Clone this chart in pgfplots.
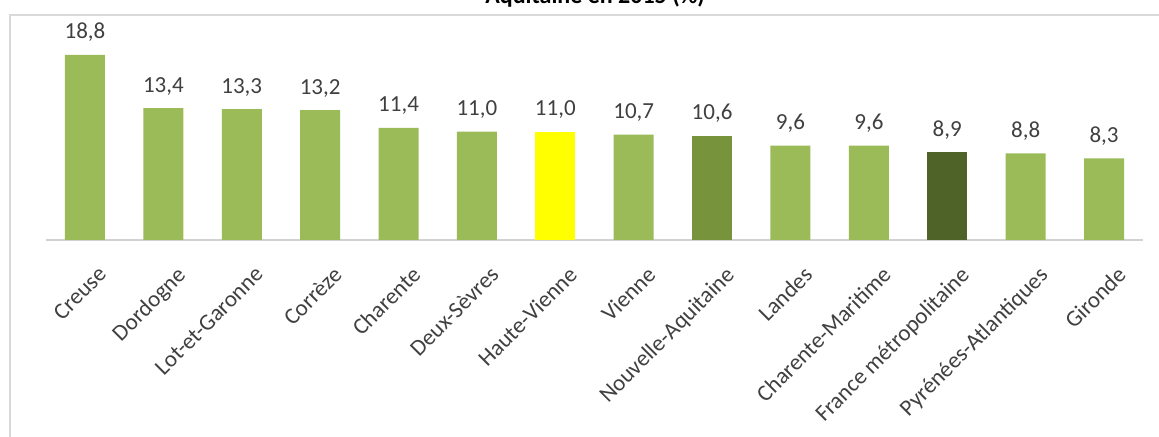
\documentclass[border=0pt]{standalone}
\usepackage{pgfplots}
\pgfplotsset{compat=1.18}
\usepackage{fontspec}
\setmainfont{Carlito}
\definecolor{lg}{HTML}{9BBB59}
\definecolor{mg}{HTML}{77933C}
\definecolor{dg}{HTML}{4F6228}
\definecolor{yl}{HTML}{FFFF00}
\definecolor{txt}{HTML}{404040}
\begin{document}
\begin{tikzpicture}
\clip (0,0) rectangle (579.5pt,218.5pt);
\draw[draw=gray!30, line width=0.8pt] (5pt,-20pt) rectangle (600pt,211pt);
\node[anchor=base, font=\bfseries\fontsize{12}{13}\selectfont] at (297.5pt,216.5pt) {Aquitaine en 2015 (\%)};
\begin{axis}[
  scale only axis,
  width=548.7pt, height=98.4pt,
  at={(22.9pt,98.5pt)}, anchor=south west,
  xmin=-0.5, xmax=13.5, ymin=0, ymax=20,
  axis y line=none,
  axis x line=bottom,
  x axis line style={draw=gray!35, line width=0.8pt, -},
  xtick={0,...,13},
  xticklabels={Creuse,Dordogne,Lot-et-Garonne,Corrèze,Charente,Deux-Sèvres,Haute-Vienne,Vienne,Nouvelle-Aquitaine,Landes,Charente-Maritime,France métropolitaine,Pyrénées-Atlantiques,Gironde},
  xticklabel style={rotate=45, anchor=north east, font=\fontsize{11.5}{12}\selectfont, text=txt, inner sep=1pt, xshift=-3.5pt, yshift=-12pt},
  major tick length=0pt,
  ybar, bar width=20pt, bar shift=0pt,
  nodes near coords,
  nodes near coords style={font=\fontsize{11.5}{12}\selectfont, text=txt, yshift=3pt, /pgf/number format/fixed, /pgf/number format/fixed zerofill, /pgf/number format/precision=1, /pgf/number format/use comma, /pgf/number format/assume math mode=true},
  clip=false,
]
\addplot[fill=lg, draw=none] coordinates {(0,18.8) (1,13.4) (2,13.3) (3,13.2) (4,11.4) (5,11.0) (7,10.7) (9,9.6) (10,9.6) (12,8.8) (13,8.3)};
\addplot[fill=yl, draw=none] coordinates {(6,11.0)};
\addplot[fill=mg, draw=none] coordinates {(8,10.6)};
\addplot[fill=dg, draw=none] coordinates {(11,8.9)};
\end{axis}
\end{tikzpicture}
\end{document}
